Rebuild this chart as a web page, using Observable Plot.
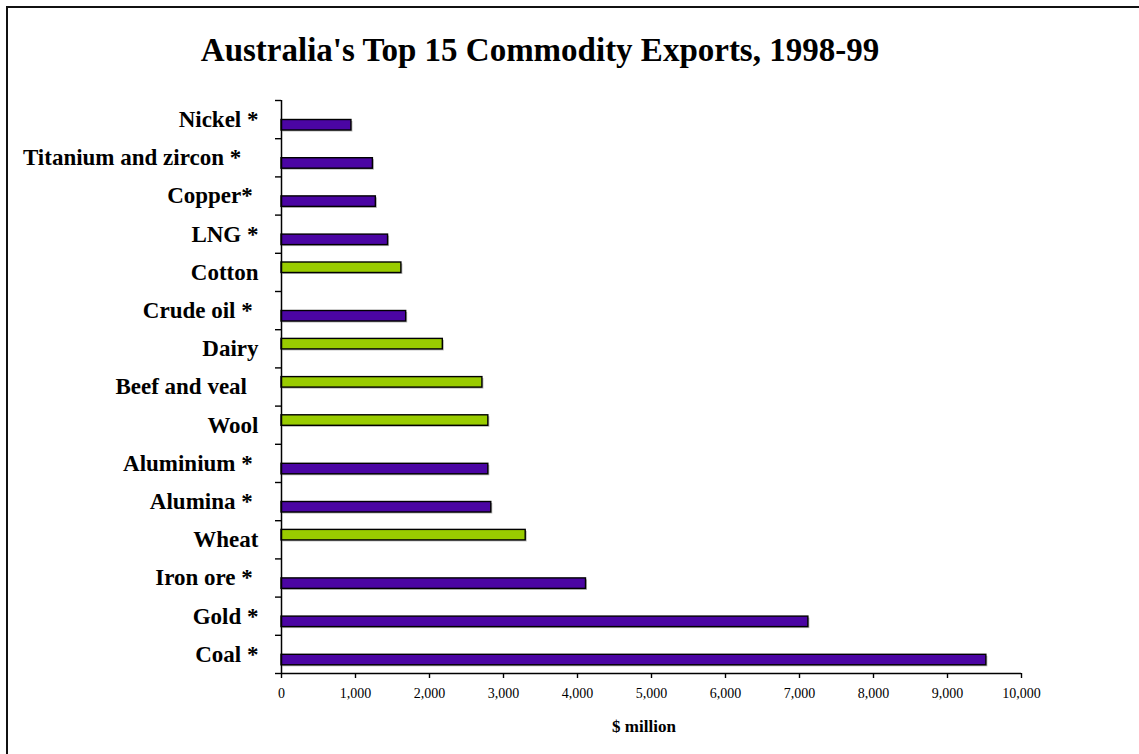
<!DOCTYPE html>
<html>
<head>
<meta charset="utf-8">
<script src="https://cdn.jsdelivr.net/npm/d3@7"></script>
<script src="https://cdn.jsdelivr.net/npm/@observablehq/plot@0.6"></script>
<style>
  html, body { margin: 0; padding: 0; background: #fff; }
  body { width: 1139px; height: 754px; position: relative; overflow: hidden;
         font-family: "Liberation Serif", "Times New Roman", serif; }
  #title { position: absolute; left: 0; top: 30px; width: 1080px; height: 40px; line-height: 40px;
           text-align: center; font-size: 33px; font-weight: bold; color: #000; }
  #chart { position: absolute; left: 0; top: 70px; }
  #chart svg { background: transparent; }
  #caption { position: absolute; left: 544px; top: 715px; width: 200px; text-align: center;
             font-size: 17px; font-weight: bold; line-height: 24px; color: #000; }
  #frame { position: absolute; left: 6px; top: 6px; width: 1200px; height: 800px;
           border-left: 2px solid #111; border-top: 2px solid #111; pointer-events: none; z-index: 5; }
</style>
</head>
<body>
<div id="title">Australia's Top 15 Commodity Exports, 1998-99</div>
<div id="chart"></div>
<div id="caption">$ million</div>
<div id="frame"></div>
<script>
// Categories, top to bottom (labels as in the original, with its trailing spacing)
const commodities = [
  "Nickel *",
  "Titanium and zircon *\u00a0\u00a0\u00a0",
  "Copper*\u00a0",
  "LNG *",
  "Cotton",
  "Crude oil *\u00a0",
  "Dairy",
  "Beef and veal\u00a0\u00a0",
  "Wool",
  "Aluminium *\u00a0",
  "Alumina *\u00a0",
  "Wheat",
  "Iron ore *\u00a0",
  "Gold *",
  "Coal *"
];
// Export value, $ million
const exportValues = [945, 1235, 1275, 1440, 1620, 1685, 2180, 2715, 2795, 2795, 2835, 3300, 4115, 7120, 9525];
// Sector: mining/energy (*) vs rural
const sectors = ["Mining", "Mining", "Mining", "Mining", "Rural", "Mining", "Rural", "Rural", "Rural",
                 "Mining", "Mining", "Rural", "Mining", "Mining", "Mining"];
const xTicks = [0, 1000, 2000, 3000, 4000, 5000, 6000, 7000, 8000, 9000, 10000];
const sectorColors = {Mining: "#4b05a3", Rural: "#99cc00"};

const data = commodities.map((name, i) => ({name, value: exportValues[i], sector: sectors[i], i}));
const n = commodities.length;
const mining = data.filter(d => d.sector === "Mining");
const rural = data.filter(d => d.sector === "Rural");

const miningInset = {insetTop: 19.5, insetBottom: 8.2};
const ruralInset = {insetTop: 9.2, insetBottom: 18.5};

function bars(rows, inset) {
  return [
    Plot.rect(rows, {x1: () => 0, x2: "value", y1: "i", y2: d => d.i + 1, ...inset,
      fill: "#b5b5b5", dx: 1.5, dy: 1.5}),
    Plot.rect(rows, {x1: () => 0, x2: "value", y1: "i", y2: d => d.i + 1, ...inset,
      fill: d => sectorColors[d.sector], stroke: "#000", strokeWidth: 1.4})
  ];
}

const chart = Plot.plot({
  width: 1139,
  height: 642,
  marginLeft: 281,
  marginRight: 118,
  marginTop: 30,
  marginBottom: 39,
  style: {fontFamily: "'Liberation Serif', 'Times New Roman', serif", color: "#000", background: "transparent"},
  x: {domain: [0, 10000], axis: null},
  y: {domain: [0, n], reverse: true, axis: null},
  marks: [
    ...bars(rural, ruralInset),
    ...bars(mining, miningInset),
    Plot.ruleX([0], {stroke: "#000", strokeWidth: 1.5}),
    Plot.ruleY([n], {stroke: "#000", strokeWidth: 1.5}),
    Plot.axisY({ticks: d3.range(n + 1), tickSize: 6, tickFormat: () => "", strokeWidth: 1.4, label: null}),
    Plot.axisY({ticks: d3.range(n).map(i => i + 0.5), tickSize: 0, tickPadding: 23,
      tickFormat: t => commodities[Math.floor(t)], fontSize: 23, fontWeight: "bold", label: null}),
    Plot.axisX({ticks: xTicks, tickSize: 5, tickPadding: 10, tickFormat: d3.format(","),
      fontSize: 14, strokeWidth: 1.4, label: null})
  ]
});
document.getElementById("chart").appendChild(chart);
</script>
</body>
</html>
